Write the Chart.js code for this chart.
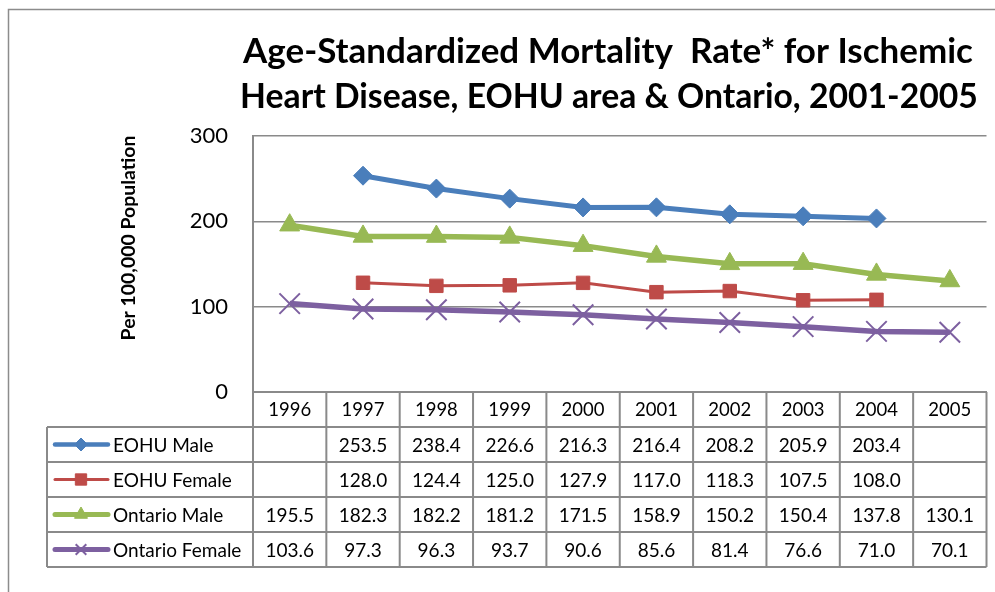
<!DOCTYPE html>
<html>
<head>
<meta charset="utf-8">
<script src="https://cdn.jsdelivr.net/npm/chart.js@4/dist/chart.umd.min.js"></script>
<style>
  html, body { margin: 0; padding: 0; background: #ffffff; overflow: hidden; width: 995px; height: 592px; }
  #wrap { position: absolute; left: 0; top: 0; width: 1003px; height: 592px; }
  canvas { display: block; }
</style>
</head>
<body>
<div id="wrap"><canvas id="c" width="1003" height="592" style="width:1003px;height:592px"></canvas></div>
<script>
// ---- data ----
const years = ['1996', '1997', '1998', '1999', '2000', '2001', '2002', '2003', '2004', '2005'];
const seriesNames = ['EOHU Male', 'EOHU Female', 'Ontario Male', 'Ontario Female'];
const eohuMale = [null, 253.5, 238.4, 226.6, 216.3, 216.4, 208.2, 205.9, 203.4, null];
const eohuFemale = [null, 128.0, 124.4, 125.0, 127.9, 117.0, 118.3, 107.5, 108.0, null];
const ontarioMale = [195.5, 182.3, 182.2, 181.2, 171.5, 158.9, 150.2, 150.4, 137.8, 130.1];
const ontarioFemale = [103.6, 97.3, 96.3, 93.7, 90.6, 85.6, 81.4, 76.6, 71.0, 70.1];
const yMin = 0, yMax = 300, yStep = 100;
const titleLines = ['Age-Standardized Mortality  Rate* for Ischemic', 'Heart Disease, EOHU area & Ontario, 2001-2005'];
const yTitle = 'Per 100,000 Population';

// ---- styles ----
const FONT = 'Lato, "Open Sans", "DejaVu Sans", sans-serif';
const colors = ['#4A7EBB', '#BE4B48', '#98B954', '#7D60A0'];
const styles = [
  { lineW: 5,   pointStyle: 'rectRot',  r: 9.5, pbw: 1, lr: 6.5 },
  { lineW: 3,   pointStyle: 'rect',     r: 9.5, pbw: 1, lr: 8 },
  { lineW: 5.5, pointStyle: 'triangle', r: 11.5, pbw: 1, lr: 7.5 },
  { lineW: 5.5, pointStyle: 'crossRot', r: 14.5, pbw: 2, lr: 7.5 }
];
const seriesData = [eohuMale, eohuFemale, ontarioMale, ontarioFemale];
const gridColor = '#8a8a8a';

const datasets = seriesNames.map((name, i) => ({
  label: name,
  data: seriesData[i],
  borderColor: colors[i],
  backgroundColor: colors[i],
  borderWidth: styles[i].lineW,
  pointStyle: styles[i].pointStyle,
  pointRadius: styles[i].r,
  pointHoverRadius: styles[i].r,
  pointBorderWidth: styles[i].pbw,
  pointBorderColor: colors[i],
  pointBackgroundColor: colors[i],
  tension: 0,
  spanGaps: false,
  order: 4 - i
}));

function fitFont(ctx, text, weight, targetW) {
  ctx.font = weight + ' 100px ' + FONT;
  const w = ctx.measureText(text).width;
  return 100 * targetW / w;
}

function drawMarker(ctx, style, radius, x, y, color, bw) {
  ctx.save();
  ctx.fillStyle = color;
  ctx.strokeStyle = color;
  ctx.lineWidth = bw;
  if (Chart.helpers && Chart.helpers.drawPoint) {
    Chart.helpers.drawPoint(ctx, { pointStyle: style, radius: radius, rotation: 0, borderWidth: bw }, x, y);
  }
  ctx.restore();
}

const tablePlugin = {
  id: 'tablePlugin',
  afterDraw(chart) {
    const ctx = chart.ctx;
    const area = chart.chartArea;
    const xs = chart.scales.x;
    const colW = xs.getPixelForValue(1) - xs.getPixelForValue(0);
    const edges = years.map((_, i) => xs.getPixelForValue(i) - colW / 2);
    edges.push(xs.getPixelForValue(years.length - 1) + colW / 2);
    const rowH = 35;
    const top = area.bottom;
    const headBottom = top + rowH;
    const tableBottom = headBottom + rowH * seriesNames.length;
    const legendLeft = 47;

    ctx.save();
    // outer chart frame
    ctx.strokeStyle = '#8c8c8c';
    ctx.lineWidth = 1.5;
    ctx.strokeRect(8.5, 9.5, 1200, 800);

    // table grid
    ctx.strokeStyle = gridColor;
    ctx.lineWidth = 2;
    ctx.beginPath();
    for (let r = 0; r <= seriesNames.length; r++) {
      const y = headBottom + r * rowH;
      ctx.moveTo(legendLeft, y);
      ctx.lineTo(edges[edges.length - 1], y);
    }
    edges.forEach(x => { ctx.moveTo(x, top); ctx.lineTo(x, tableBottom); });
    ctx.moveTo(legendLeft, headBottom);
    ctx.lineTo(legendLeft, tableBottom);
    ctx.stroke();

    // values
    ctx.fillStyle = '#000';
    ctx.font = '19px ' + FONT;
    ctx.textAlign = 'center';
    ctx.textBaseline = 'middle';
    seriesData.forEach((arr, s) => {
      const cy = headBottom + s * rowH + rowH / 2 + 1;
      arr.forEach((v, i) => {
        if (v !== null && v !== undefined) {
          ctx.fillText(v.toFixed(1), xs.getPixelForValue(i), cy);
        }
      });
    });

    // legend keys
    seriesNames.forEach((name, s) => {
      const cy = headBottom + s * rowH + rowH / 2;
      ctx.save();
      ctx.strokeStyle = colors[s];
      ctx.lineWidth = Math.max(3, styles[s].lineW - 0.5);
      ctx.lineCap = 'round';
      ctx.beginPath();
      ctx.moveTo(55, cy);
      ctx.lineTo(108, cy);
      ctx.stroke();
      ctx.restore();
      drawMarker(ctx, styles[s].pointStyle, styles[s].lr, 81, cy, colors[s], styles[s].pbw);
      ctx.fillStyle = '#000';
      ctx.font = '19px ' + FONT;
      ctx.textAlign = 'left';
      ctx.textBaseline = 'middle';
      ctx.fillText(name, 113, cy + 1);
    });

    // title
    ctx.fillStyle = '#000';
    ctx.textAlign = 'center';
    ctx.textBaseline = 'alphabetic';
    const t1 = fitFont(ctx, titleLines[0], 'bold', 730);
    ctx.font = 'bold ' + t1.toFixed(2) + 'px ' + FONT;
    ctx.fillText(titleLines[0], 608, 63);
    const t2 = fitFont(ctx, titleLines[1], 'bold', 738);
    ctx.font = 'bold ' + t2.toFixed(2) + 'px ' + FONT;
    ctx.fillText(titleLines[1], 609, 108);

    // y axis title
    const ySize = fitFont(ctx, yTitle, 'bold', 205);
    ctx.save();
    ctx.translate(135, 238);
    ctx.rotate(-Math.PI / 2);
    ctx.font = 'bold ' + ySize.toFixed(2) + 'px ' + FONT;
    ctx.textAlign = 'center';
    ctx.textBaseline = 'alphabetic';
    ctx.fillText(yTitle, 0, 0);
    ctx.restore();

    ctx.restore();
  }
};

new Chart(document.getElementById('c'), {
  type: 'line',
  data: { labels: years, datasets: datasets },
  options: {
    responsive: false,
    animation: false,
    layout: { padding: { top: 136, left: 0, right: 0, bottom: 0 } },
    plugins: {
      legend: { display: false },
      title: { display: false },
      tooltip: { enabled: false }
    },
    scales: {
      x: {
        type: 'category',
        offset: true,
        grid: { display: true, drawOnChartArea: false, drawTicks: false, color: gridColor, offset: true },
        border: { display: true, color: gridColor, width: 2 },
        ticks: { color: '#000', font: { family: FONT, size: 18.5 }, padding: 7, maxRotation: 0, autoSkip: false },
        afterFit(scale) { scale.height = 200; }
      },
      y: {
        min: yMin,
        max: yMax,
        ticks: { stepSize: yStep, color: '#000', font: { family: FONT, size: 22 }, padding: 25 },
        grid: { color: gridColor, lineWidth: 1.5, drawTicks: false },
        border: { display: true, color: gridColor, width: 2 },
        afterFit(scale) { scale.width = 253; }
      }
    }
  },
  plugins: [tablePlugin]
});
</script>
</body>
</html>
